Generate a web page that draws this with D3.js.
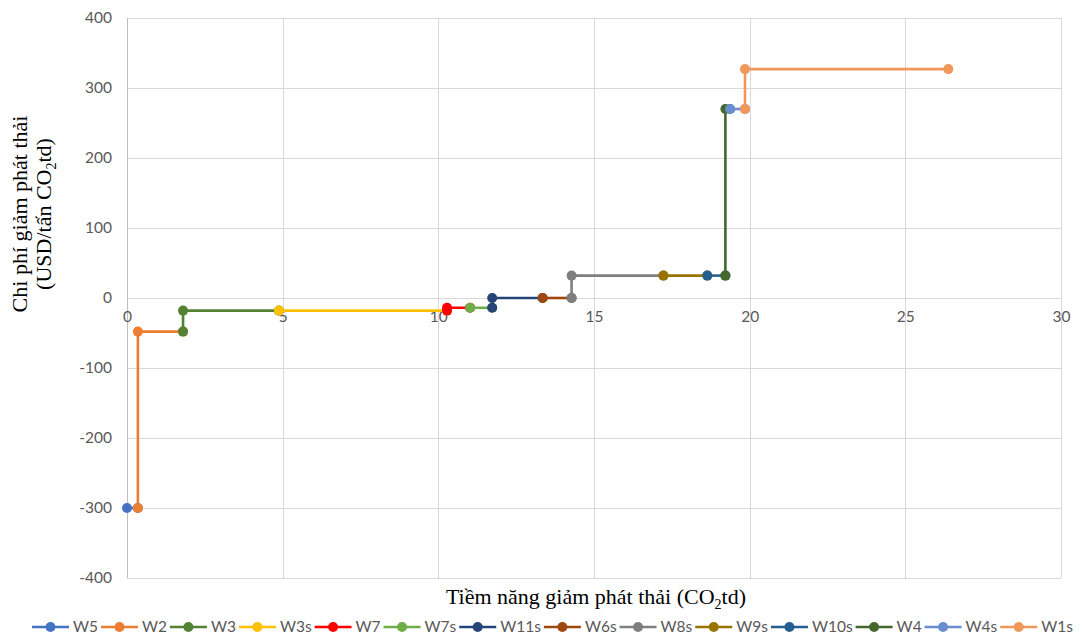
<!DOCTYPE html>
<html>
<head>
<meta charset="utf-8">
<script src="https://cdn.jsdelivr.net/npm/d3@7"></script>
<style>
  html, body { margin: 0; padding: 0; background: #fff; }
  svg { display: block; }
</style>
</head>
<body>
<svg id="chart" width="1084" height="636"></svg>
<script>
// Marginal abatement cost steps: [cumulative potential, cost]
const seriesNames = ["W5", "W2", "W3", "W3s", "W7", "W7s", "W11s", "W6s", "W8s", "W9s", "W10s", "W4", "W4s", "W1s"];
const seriesColors = ["#4472C4", "#ED7D31", "#548235", "#FFC000", "#FF0000", "#70AD47", "#264478", "#9E480E", "#7F7F7F", "#997300", "#255E91", "#43682B", "#698ED0", "#F1975A"];

const W5   = [[0, -300], [0.35, -300]];
const W2   = [[0.35, -300], [0.35, -48], [1.8, -48]];
const W3   = [[1.8, -48], [1.8, -18], [4.88, -18]];
const W3s  = [[4.88, -18], [10.28, -18]];
const W7   = [[10.28, -18], [10.28, -14], [11.02, -14]];
const W7s  = [[11.02, -14], [11.73, -14]];
const W11s = [[11.73, -14], [11.73, 0], [13.35, 0]];
const W6s  = [[13.35, 0], [14.28, 0]];
const W8s  = [[14.28, 0], [14.28, 32], [17.23, 32]];
const W9s  = [[17.23, 32], [18.64, 32]];
const W10s = [[18.64, 32], [19.22, 32]];
const W4   = [[19.22, 32], [19.22, 270], [19.37, 270]];
const W4s  = [[19.37, 270], [19.85, 270]];
const W1s  = [[19.85, 270], [19.85, 327], [26.38, 327]];

const seriesPoints = [W5, W2, W3, W3s, W7, W7s, W11s, W6s, W8s, W9s, W10s, W4, W4s, W1s];

const xTicks = [0, 5, 10, 15, 20, 25, 30];
const yTicks = [-400, -300, -200, -100, 0, 100, 200, 300, 400];

const svg = d3.select("#chart");
const plot = { left: 127, right: 1061, top: 18, bottom: 578 };

const x = d3.scaleLinear().domain([0, 30]).range([plot.left, plot.right]);
const y = d3.scaleLinear().domain([-400, 400]).range([plot.bottom, plot.top]);

const tickFont = "Lato, 'Open Sans', sans-serif";
const titleFont = "'Liberation Serif', 'DejaVu Serif', serif";
const textGray = "#595959";
const gridGray = "#d9d9d9";
const plain = d => String(d);

// Horizontal gridlines
svg.append("g")
  .selectAll("line")
  .data(yTicks)
  .join("line")
  .attr("x1", plot.left).attr("x2", plot.right)
  .attr("y1", d => y(d) + 0.5).attr("y2", d => y(d) + 0.5)
  .attr("stroke", gridGray).attr("stroke-width", 1);

// Vertical gridlines
svg.append("g")
  .selectAll("line")
  .data(xTicks)
  .join("line")
  .attr("x1", d => Math.round(x(d)) + 0.5).attr("x2", d => Math.round(x(d)) + 0.5)
  .attr("y1", plot.top).attr("y2", plot.bottom)
  .attr("stroke", d => d === 0 ? "#bfbfbf" : gridGray).attr("stroke-width", 1);

// Y axis tick labels
const yAxis = d3.axisLeft(y).tickValues(yTicks).tickFormat(plain).tickSize(0).tickPadding(15);
svg.append("g")
  .attr("transform", `translate(${plot.left},0)`)
  .call(yAxis)
  .call(g => g.select(".domain").remove())
  .call(g => g.selectAll("text")
    .attr("font-family", tickFont).attr("font-size", 15.5).attr("fill", textGray));

// X axis tick labels, sitting on the zero line
const xAxis = d3.axisBottom(x).tickValues(xTicks).tickFormat(plain).tickSize(0).tickPadding(13);
svg.append("g")
  .attr("transform", `translate(0,${y(0)})`)
  .call(xAxis)
  .call(g => g.select(".domain").remove())
  .call(g => g.selectAll("text")
    .attr("font-family", tickFont).attr("font-size", 15.5).attr("fill", textGray));

// Step lines and markers
const line = d3.line().x(d => x(d[0])).y(d => y(d[1]));
const seriesG = svg.append("g");
seriesPoints.forEach((pts, i) => {
  const g = seriesG.append("g");
  g.append("path")
    .attr("d", line(pts))
    .attr("fill", "none")
    .attr("stroke", seriesColors[i])
    .attr("stroke-width", 2.6)
    .attr("stroke-linejoin", "round");
  g.selectAll("circle")
    .data(pts)
    .join("circle")
    .attr("cx", d => x(d[0]))
    .attr("cy", d => y(d[1]))
    .attr("r", 5)
    .attr("fill", seriesColors[i]);
});

// Axis titles
const xTitle = svg.append("text")
  .attr("x", 596).attr("y", 604)
  .attr("text-anchor", "middle")
  .attr("font-family", titleFont).attr("font-size", 22).attr("fill", "#000");
xTitle.append("tspan").text("Tiềm năng giảm phát thải (CO");
xTitle.append("tspan").attr("font-size", 14).attr("dy", 5).text("2");
xTitle.append("tspan").attr("dy", -5).text("td)");

const yTitle = svg.append("g").attr("transform", "translate(0,214) rotate(-90)");
yTitle.append("text")
  .attr("x", 0).attr("y", 27)
  .attr("text-anchor", "middle")
  .attr("font-family", titleFont).attr("font-size", 22).attr("fill", "#000")
  .text("Chi phí giảm phát thải");
const yT2 = yTitle.append("text")
  .attr("x", 0).attr("y", 51)
  .attr("text-anchor", "middle")
  .attr("font-family", titleFont).attr("font-size", 22).attr("fill", "#000");
yT2.append("tspan").text("(USD/tấn CO");
yT2.append("tspan").attr("font-size", 14).attr("dy", 5).text("2");
yT2.append("tspan").attr("dy", -5).text("td)");

// Legend laid out across the bottom
const legend = svg.append("g");
const legendY = 627;
const symW = 37, textGap = 4;
const items = seriesNames.map((name, i) => {
  const g = legend.append("g");
  g.append("line")
    .attr("x1", 0).attr("x2", symW)
    .attr("y1", 0).attr("y2", 0)
    .attr("stroke", seriesColors[i]).attr("stroke-width", 2.6);
  g.append("circle")
    .attr("cx", symW / 2).attr("cy", 0).attr("r", 5)
    .attr("fill", seriesColors[i]);
  const t = g.append("text")
    .attr("x", symW + textGap).attr("y", 0).attr("dy", "0.35em")
    .attr("font-family", tickFont).attr("font-size", 15.5).attr("fill", textGray)
    .text(name);
  return { g, w: symW + textGap + t.node().getComputedTextLength() };
});
const legendStart = 32, legendEnd = 1073;
const totalW = d3.sum(items, d => d.w);
const gap = (legendEnd - legendStart - totalW) / (items.length - 1);
let cx = legendStart;
items.forEach(it => {
  it.g.attr("transform", `translate(${cx},${legendY})`);
  cx += it.w + gap;
});
</script>
</body>
</html>
